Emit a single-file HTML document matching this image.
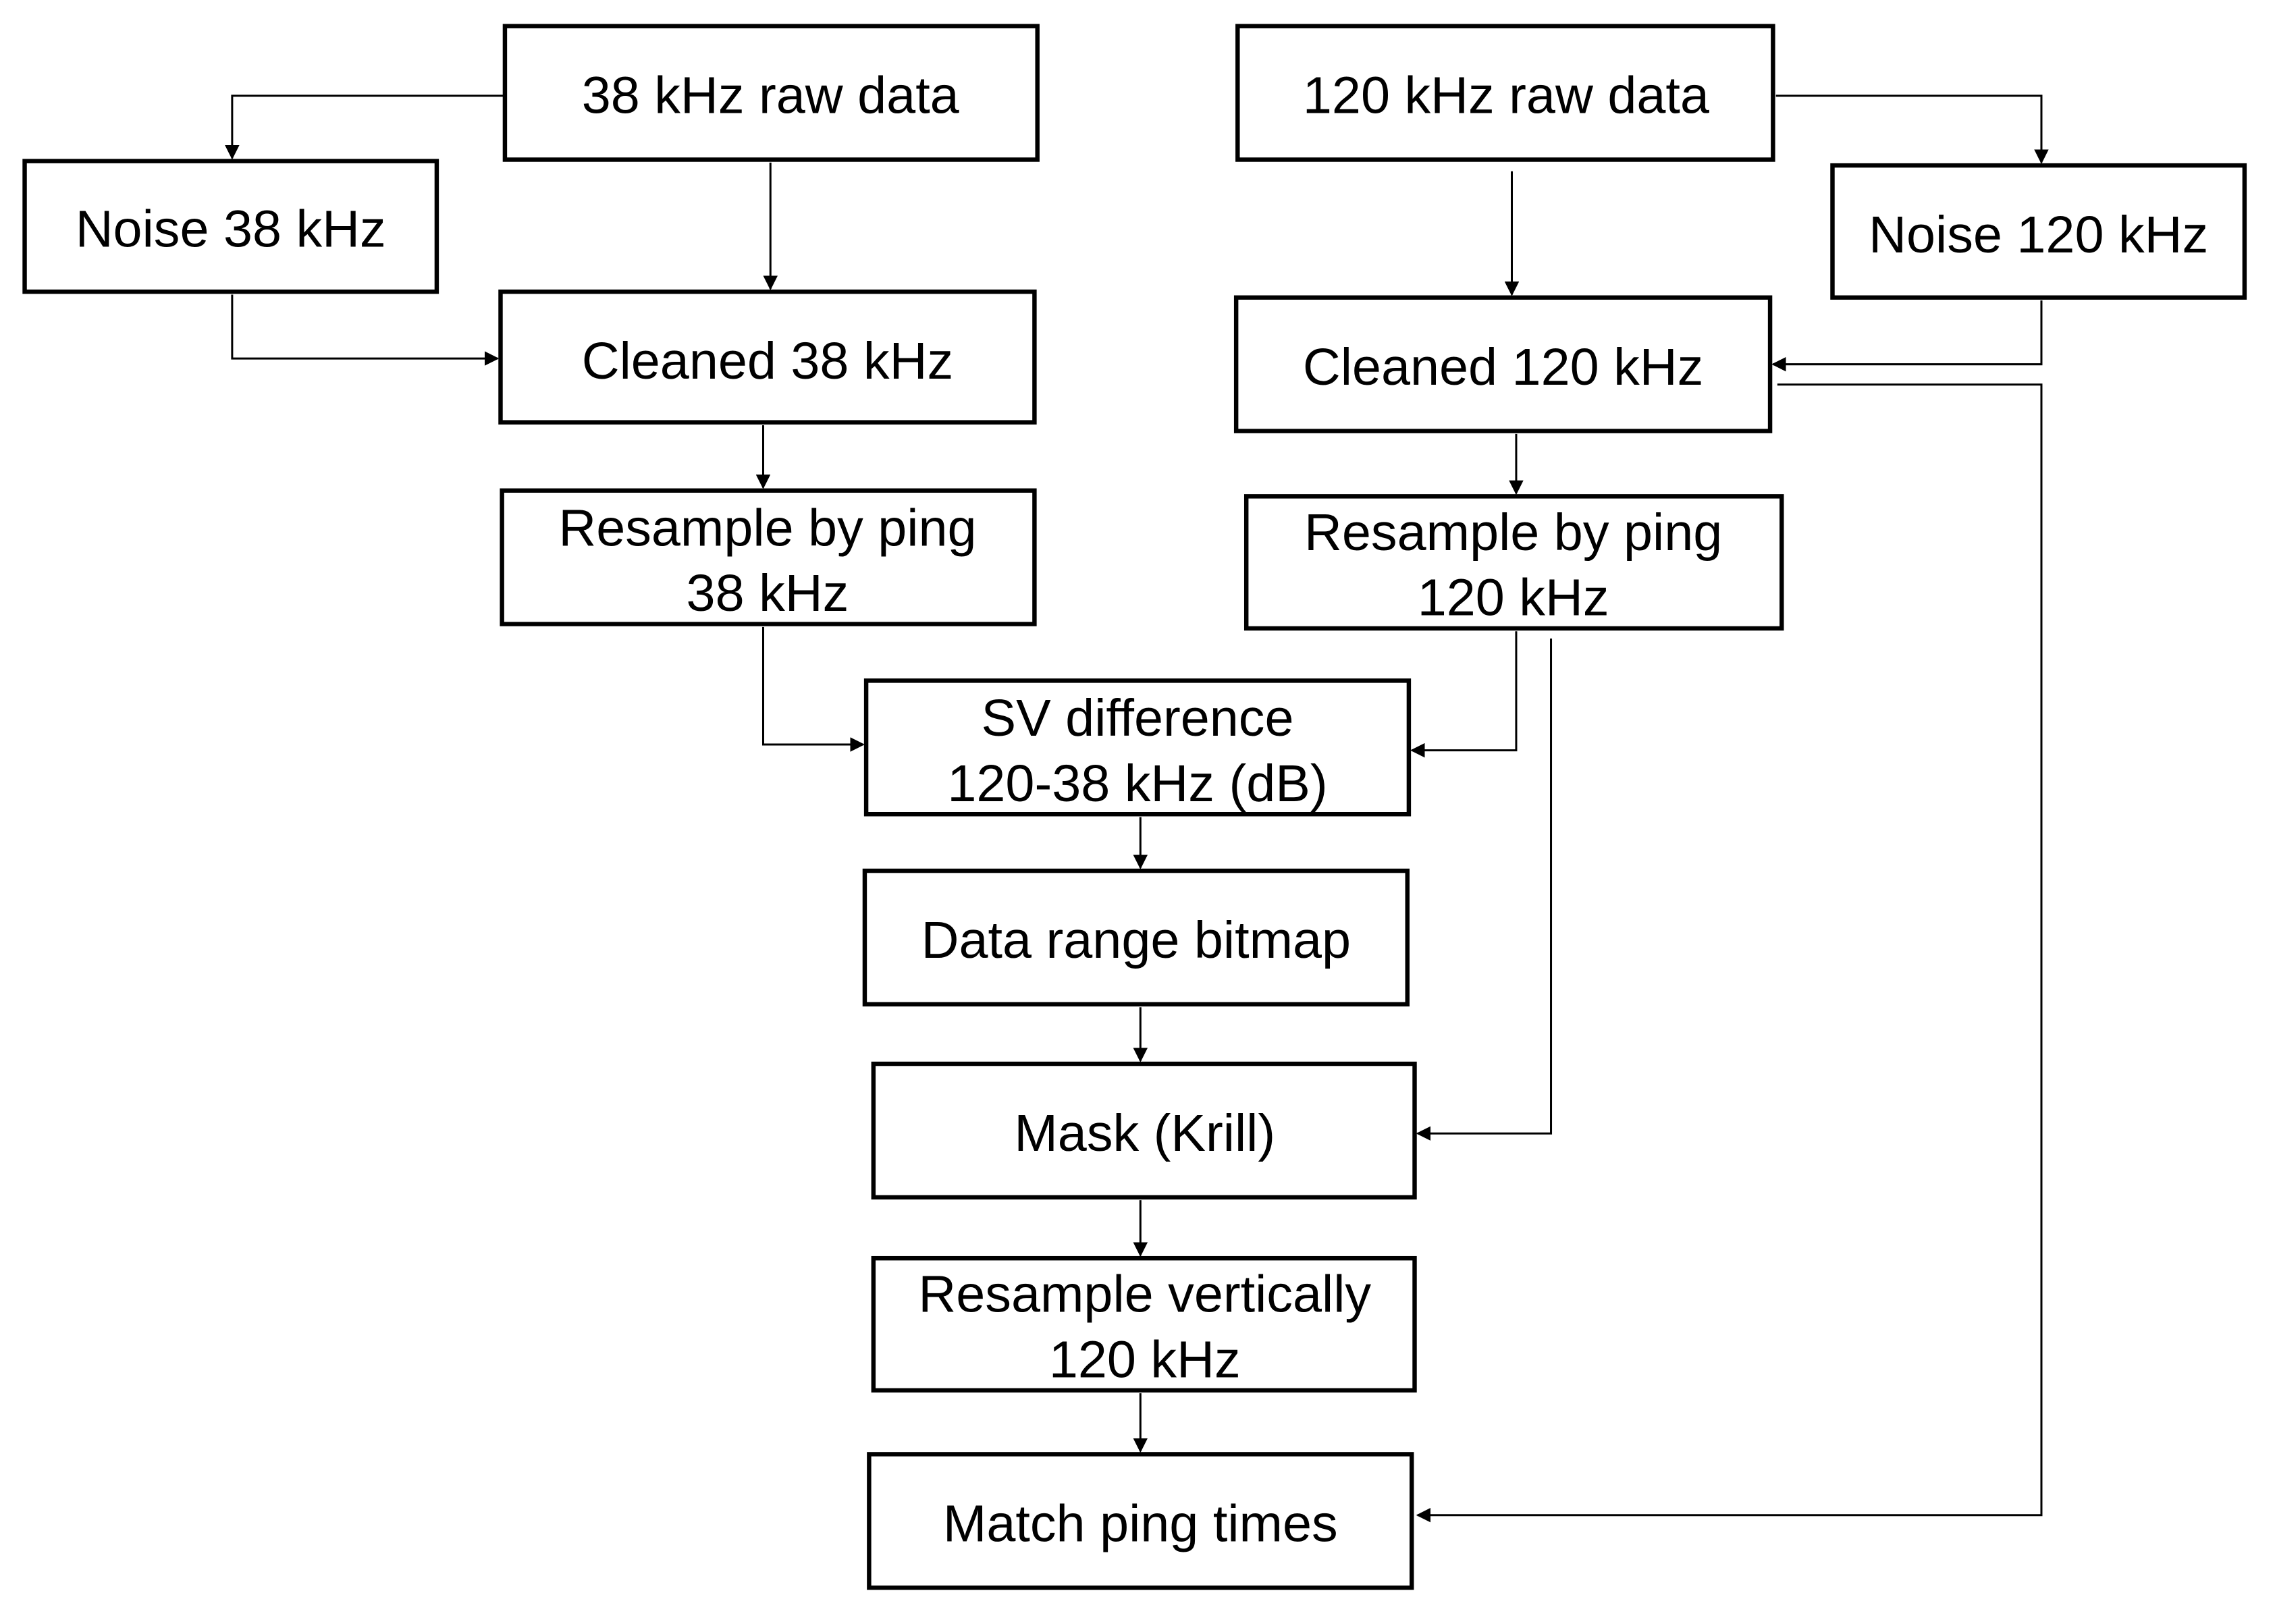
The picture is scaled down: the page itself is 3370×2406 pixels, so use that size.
<!DOCTYPE html>
<html><head><meta charset="utf-8"><style>
html,body{margin:0;padding:0;background:#fff;}
svg{display:block;}
text{font-family:"Liberation Sans",Arial,sans-serif;font-size:36px;fill:#000;text-anchor:middle;}
</style></head><body>
<svg width="3370" height="2406" viewBox="0 0 1568 1119" preserveAspectRatio="none">
<defs><marker id="a" markerWidth="10" markerHeight="10" refX="9" refY="5" orient="auto" markerUnits="userSpaceOnUse"><path d="M0,0 L10,5 L0,10 z" fill="#000"/></marker></defs>
<g fill="#fff" stroke="#000" stroke-width="3">
<rect x="348" y="18" width="367" height="92"/>
<rect x="17" y="111" width="284" height="90"/>
<rect x="345" y="201" width="368" height="90"/>
<rect x="346" y="338" width="367" height="92"/>
<rect x="853" y="18" width="369" height="92"/>
<rect x="1263" y="114" width="284" height="91"/>
<rect x="852" y="205" width="368" height="92"/>
<rect x="859" y="342" width="369" height="91"/>
<rect x="597" y="469" width="374" height="92"/>
<rect x="596" y="600" width="374" height="92"/>
<rect x="602" y="733" width="373" height="92"/>
<rect x="602" y="867" width="373" height="91"/>
<rect x="599" y="1002" width="374" height="92"/>
</g>
<g fill="none" stroke="#000" stroke-width="1.4" marker-end="url(#a)">
<path d="M348,66 H160 V109"/>
<path d="M531,112 V199"/>
<path d="M160,203 V247 H343"/>
<path d="M526,293 V336"/>
<path d="M526,432 V513 H595"/>
<path d="M1224,66 H1407 V112"/>
<path d="M1042,118 V203"/>
<path d="M1407,207 V251 H1222"/>
<path d="M1225,265 H1407 V1044 H977"/>
<path d="M1045,299 V340"/>
<path d="M1045,435 V517 H973"/>
<path d="M1069,440 V781 H977"/>
<path d="M786,563 V598"/>
<path d="M786,694 V731"/>
<path d="M786,827 V865"/>
<path d="M786,960 V1000"/>
</g>
<text x="531" y="78">38 kHz  raw data</text>
<text x="159" y="170">Noise 38 kHz</text>
<text x="529" y="261">Cleaned  38 kHz</text>
<text x="529" y="376">Resample  by ping</text>
<text x="529" y="421">38 kHz</text>
<text x="1038" y="78">120 kHz   raw data</text>
<text x="1405" y="174">Noise 120 kHz</text>
<text x="1036" y="265">Cleaned  120 kHz</text>
<text x="1043" y="379">Resample  by ping</text>
<text x="1043" y="424">120 kHz</text>
<text x="784" y="507">SV difference</text>
<text x="784" y="552">120-38 kHz  (dB)</text>
<text x="783" y="660">Data range bitmap</text>
<text x="789" y="793">Mask (Krill)</text>
<text x="789" y="904">Resample  vertically</text>
<text x="789" y="949">120 kHz</text>
<text x="786" y="1062">Match  ping times</text>
</svg>
</body></html>
